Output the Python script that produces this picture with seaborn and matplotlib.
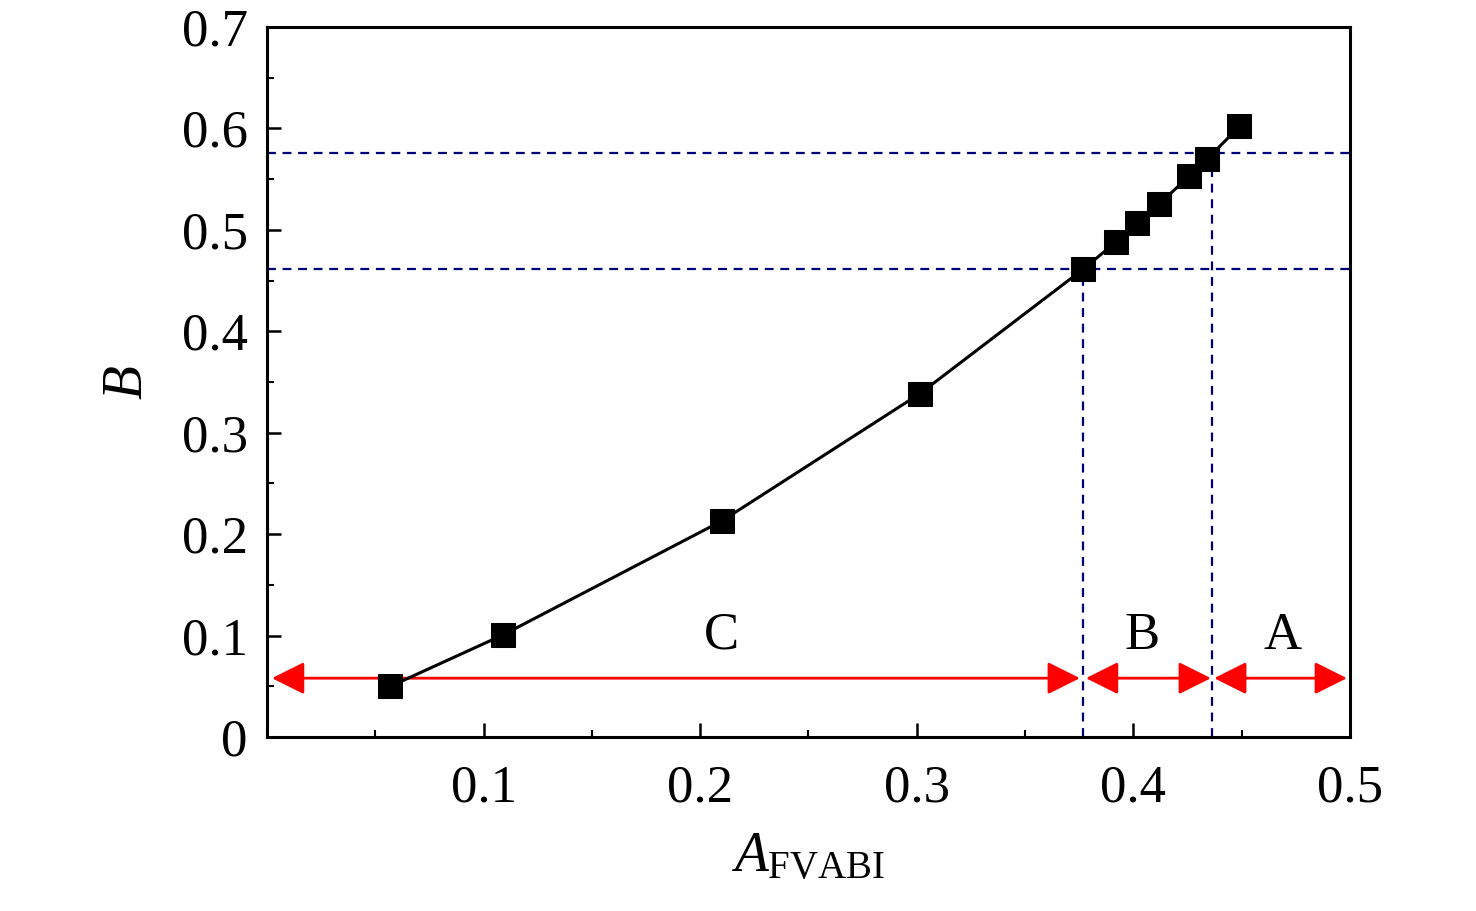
import matplotlib
matplotlib.use("Agg")
import matplotlib.pyplot as plt
import seaborn as sns
import pandas as pd
from matplotlib.ticker import MultipleLocator

# data
a_fvabi = [0.057, 0.109, 0.210, 0.3015, 0.3767, 0.392, 0.4017, 0.4118, 0.4257, 0.434, 0.449]
b_vals = [0.050, 0.1007, 0.213, 0.3386, 0.461, 0.488, 0.5064, 0.525, 0.553, 0.5696, 0.602]

# threshold guide lines
x_cuts = [0.3767, 0.4363]
y_cuts = [0.461, 0.5755]

# zone arrows (start, end) and labels
zone_names = ["C", "B", "A"]
zone_starts = [0.0023, 0.3781, 0.4373]
zone_ends = [0.3753, 0.4358, 0.4986]
zone_label_x = [0.210, 0.404, 0.469]
arrow_y = 0.058
label_y = 0.10

df = pd.DataFrame({"A": a_fvabi, "B": b_vals})

sns.set_style("ticks")
plt.rcParams["font.family"] = ["Liberation Serif", "DejaVu Serif"]
plt.rcParams["mathtext.fontset"] = "custom"
plt.rcParams["mathtext.rm"] = "Liberation Serif"
plt.rcParams["mathtext.it"] = "Liberation Serif:italic"
plt.rcParams["text.color"] = "black"
plt.rcParams["axes.labelcolor"] = "black"
plt.rcParams["xtick.color"] = "black"
plt.rcParams["ytick.color"] = "black"

fig = plt.figure(figsize=(14.76, 9.11), dpi=100)
ax = fig.add_axes([0.1809, 0.191, 0.7337, 0.7794])

# dashed guides
for xc, yc in zip(x_cuts, y_cuts):
    ax.plot([xc, xc], [0, yc], color="#00007a", ls=(0, (4, 3)), lw=1.6, zorder=2)
    ax.axhline(yc, color="#00007a", ls=(0, (4, 3)), lw=1.6, zorder=2)

sns.lineplot(data=df, x="A", y="B", ax=ax, color="black", lw=2.2,
             marker="s", markersize=17, markeredgecolor="black", sort=False, zorder=4)

# zone arrows
for name, x0, x1, xl in zip(zone_names, zone_starts, zone_ends, zone_label_x):
    ax.annotate("", xy=(x0, arrow_y), xytext=(x1, arrow_y),
                arrowprops=dict(arrowstyle="<|-|>,head_length=1.0,head_width=0.5",
                                color="red", lw=2.0, shrinkA=0, shrinkB=0,
                                mutation_scale=20), zorder=3)
    ax.text(xl, label_y, name, fontsize=38, ha="center", va="center")

ax.set_xlim(0, 0.5)
ax.set_ylim(0, 0.7)
ax.xaxis.set_major_locator(MultipleLocator(0.1))
ax.xaxis.set_minor_locator(MultipleLocator(0.05))
ax.yaxis.set_major_locator(MultipleLocator(0.1))
ax.yaxis.set_minor_locator(MultipleLocator(0.05))
ax.set_xticks([0.1, 0.2, 0.3, 0.4, 0.5])
ax.set_xticklabels(["0.1", "0.2", "0.3", "0.4", "0.5"])
ax.set_yticks([0, 0.1, 0.2, 0.3, 0.4, 0.5, 0.6, 0.7])
ax.set_yticklabels(["0", "0.1", "0.2", "0.3", "0.4", "0.5", "0.6", "0.7"])

ax.tick_params(axis="both", which="major", direction="in", length=10, width=1.8,
               labelsize=38, colors="black")
ax.tick_params(axis="x", which="major", pad=20)
ax.tick_params(axis="y", which="major", pad=14)
ax.tick_params(axis="both", which="minor", direction="in", length=5, width=1.5,
               colors="black")
ax.tick_params(top=False, right=False, which="both")

for sp in ax.spines.values():
    sp.set_visible(True)
    sp.set_linewidth(2.2)
    sp.set_color("black")

ax.set_xlabel(r"$\mathit{A}_{\mathrm{FVABI}}$", fontsize=40, labelpad=14)
ax.set_ylabel("B", fontsize=40, style="italic", labelpad=20)

fig.savefig("out.png", dpi=100, facecolor="white")
